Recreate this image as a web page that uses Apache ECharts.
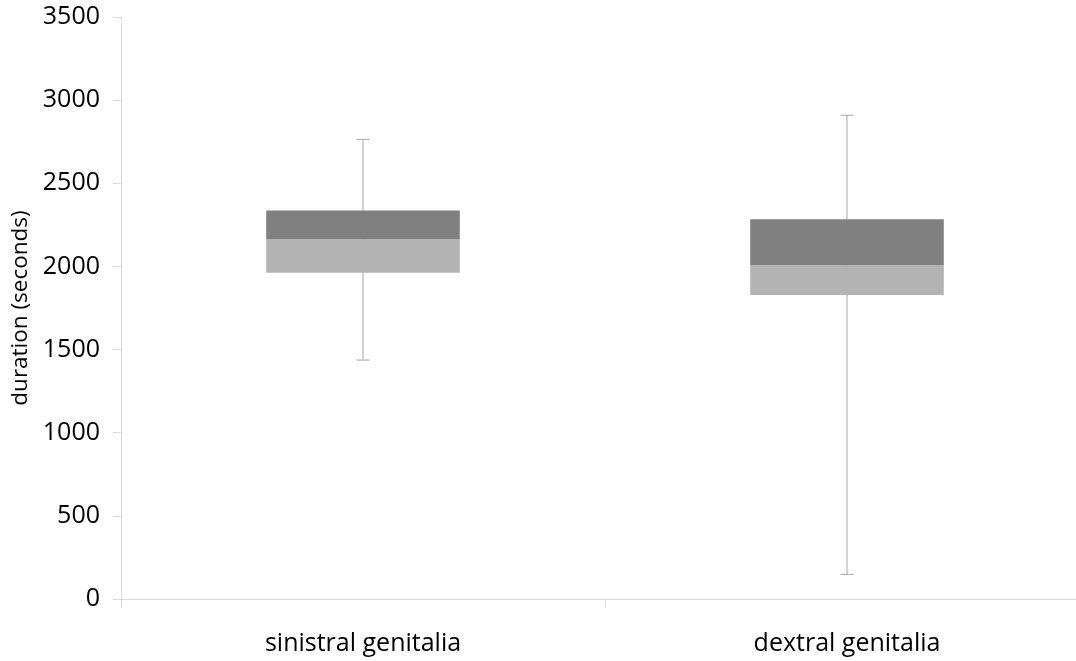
<!DOCTYPE html>
<html>
<head>
<meta charset="utf-8">
<script src="https://cdn.jsdelivr.net/npm/echarts@6/dist/echarts.min.js"></script>
<style>html,body{margin:0;padding:0;background:#fff}#c{width:1076px;height:661px}</style>
</head>
<body>
<div id="c"></div>
<script>
const categories = ['sinistral genitalia', 'dextral genitalia'];
const whiskerLow = [1437, 148];
const quartile1 = [1962, 1828];
const medians = [2163, 2007];
const quartile3 = [2337, 2283];
const whiskerHigh = [2764, 2909];
const yTicks = [0, 500, 1000, 1500, 2000, 2500, 3000, 3500];

const data = categories.map((c, i) => [i, whiskerLow[i], quartile1[i], medians[i], quartile3[i], whiskerHigh[i]]);

const chart = echarts.init(document.getElementById('c'));
const axisColor = '#d9d9d9';
chart.setOption({
  animation: false,
  grid: { left: 121, top: 17, bottom: 62, width: 968, containLabel: false, outerBoundsMode: 'none' },
  xAxis: {
    type: 'category',
    data: categories,
    boundaryGap: true,
    axisLine: { lineStyle: { color: axisColor, width: 1 } },
    axisTick: { show: true, length: 9, lineStyle: { color: axisColor } },
    axisLabel: { color: '#000', fontFamily: 'Open Sans', fontSize: 25, margin: 32 }
  },
  yAxis: {
    type: 'value',
    min: yTicks[0],
    max: yTicks[yTicks.length - 1],
    interval: 500,
    name: 'duration (seconds)',
    nameLocation: 'middle',
    nameGap: 82,
    nameTextStyle: { color: '#000', fontFamily: 'Open Sans', fontSize: 22.5 },
    splitLine: { show: false },
    axisLine: { show: true, lineStyle: { color: axisColor, width: 1 } },
    axisTick: { show: true, length: 8, lineStyle: { color: axisColor } },
    axisLabel: { color: '#000', fontFamily: 'Open Sans', fontSize: 25, margin: 21, formatter: v => String(v) }
  },
  series: [{
    type: 'custom',
    data: data,
    encode: { x: 0, y: [1, 2, 3, 4, 5] },
    renderItem: function (params, api) {
      const i = api.value(0);
      const band = api.size([1, 0])[0];
      const boxW = band * 0.40;
      const capW = 13;
      const pLow = api.coord([i, api.value(1)]);
      const pQ1 = api.coord([i, api.value(2)]);
      const pMed = api.coord([i, api.value(3)]);
      const pQ3 = api.coord([i, api.value(4)]);
      const pHigh = api.coord([i, api.value(5)]);
      const x = pMed[0];
      const wStyle = { stroke: '#a6a6a6', lineWidth: 1 };
      return {
        type: 'group',
        children: [
          { type: 'line', shape: { x1: x, y1: pLow[1], x2: x, y2: pHigh[1] }, style: wStyle },
          { type: 'line', shape: { x1: x - capW / 2, y1: pLow[1], x2: x + capW / 2, y2: pLow[1] }, style: wStyle },
          { type: 'line', shape: { x1: x - capW / 2, y1: pHigh[1], x2: x + capW / 2, y2: pHigh[1] }, style: wStyle },
          { type: 'rect', shape: { x: x - boxW / 2, y: pMed[1], width: boxW, height: pQ1[1] - pMed[1] }, style: { fill: '#b3b3b3' } },
          { type: 'rect', shape: { x: x - boxW / 2, y: pQ3[1], width: boxW, height: pMed[1] - pQ3[1] }, style: { fill: '#808080' } }
        ]
      };
    }
  }]
});
</script>
</body>
</html>
